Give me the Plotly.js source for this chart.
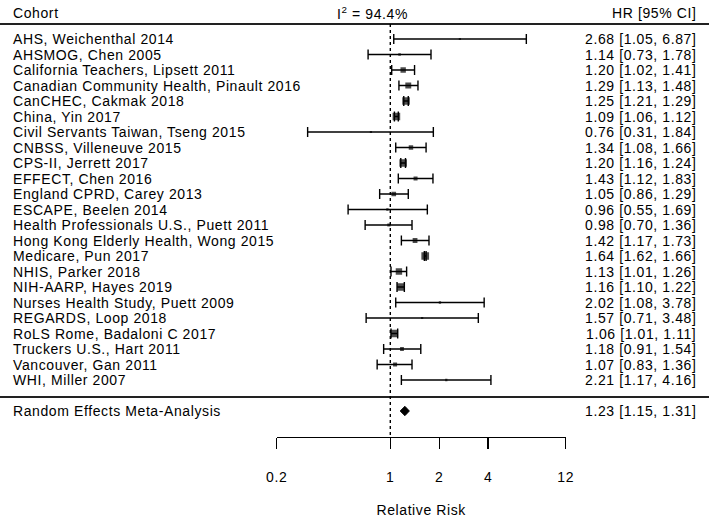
<!DOCTYPE html>
<html>
<head>
<meta charset="utf-8">
<script src="https://cdn.plot.ly/plotly-3.0.1.min.js"></script>
<style>
html,body{margin:0;padding:0;background:#fff;}
#chart{width:709px;height:518px;}
svg text{letter-spacing:0.6px;}
</style>
</head>
<body>
<div id="chart"></div>
<script>
// ---- data ----
const cohorts = [
  "AHS, Weichenthal 2014",
  "AHSMOG, Chen 2005",
  "California Teachers, Lipsett 2011",
  "Canadian Community Health, Pinault 2016",
  "CanCHEC, Cakmak 2018",
  "China, Yin 2017",
  "Civil Servants Taiwan, Tseng 2015",
  "CNBSS, Villeneuve 2015",
  "CPS-II, Jerrett 2017",
  "EFFECT, Chen 2016",
  "England CPRD, Carey 2013",
  "ESCAPE, Beelen 2014",
  "Health Professionals U.S., Puett 2011",
  "Hong Kong Elderly Health, Wong 2015",
  "Medicare, Pun 2017",
  "NHIS, Parker 2018",
  "NIH-AARP, Hayes 2019",
  "Nurses Health Study, Puett 2009",
  "REGARDS, Loop 2018",
  "RoLS Rome, Badaloni C 2017",
  "Truckers U.S., Hart 2011",
  "Vancouver, Gan 2011",
  "WHI, Miller 2007"
];
const hr    = [2.68,1.14,1.20,1.29,1.25,1.09,0.76,1.34,1.20,1.43,1.05,0.96,0.98,1.42,1.64,1.13,1.16,2.02,1.57,1.06,1.18,1.07,2.21];
const lower = [1.05,0.73,1.02,1.13,1.21,1.06,0.31,1.08,1.16,1.12,0.86,0.55,0.70,1.17,1.62,1.01,1.10,1.08,0.71,1.01,0.91,0.83,1.17];
const upper = [6.87,1.78,1.41,1.48,1.29,1.12,1.84,1.66,1.24,1.83,1.29,1.69,1.36,1.73,1.66,1.26,1.22,3.78,3.48,1.11,1.54,1.36,4.16];
const summaryLabel = "Random Effects Meta-Analysis";
const summary = {hr: 1.23, lower: 1.15, upper: 1.31};
const i2Text = "94.4%";
const tickVals = [0.2, 1, 2, 4, 12];
const tickText = ["0.2", "1", "2", "4", "12"];

// ---- layout helpers ----
const W = 709, H = 518;
const k = cohorts.length;
const rowY = cohorts.map((_, i) => k - i);     // metafor-style rows
const sumY = -1;
const pxPerRow = 15.5, firstRowPx = 39;
const yTop = k + firstRowPx / pxPerRow;
const yBot = k - (H - firstRowPx) / pxPerRow;
const pxToY = px => k - (px - firstRowPx) / pxPerRow;
const axisPx = 437;
const axisPaper = 1 - axisPx / H;
const fmt = (v) => v.toFixed(2);
const fontFam = "Liberation Sans, Arial, sans-serif";
const fs = 14;
const black = "#000";

// marker sizes from random-effects weights
const tau2 = 0.02;
const wts = lower.map((lo, i) => {
  const se = (Math.log(upper[i]) - Math.log(lo)) / (2 * 1.96);
  return 1 / (se * se + tau2);
});
const wmin = Math.min(...wts), wmax = Math.max(...wts);
const msize = wts.map(w => { const n = (w - wmin) / (wmax - wmin); return 2.2 + 5.5 * Math.pow(n, 1.7); });

// CI line segments
const ciX = [], ciY = [];
hr.forEach((_, i) => { ciX.push(lower[i], upper[i], null); ciY.push(rowY[i], rowY[i], null); });

const traces = [
  {x: ciX, y: ciY, mode: "lines+markers", type: "scatter", hoverinfo: "skip",
   line: {color: black, width: 1.4},
   marker: {symbol: "line-ns", size: 7, color: black, line: {width: 1.4, color: black}}},
  {x: hr, y: rowY, mode: "markers", type: "scatter", hoverinfo: "skip",
   marker: {symbol: "square", size: msize, color: black, line: {width: 0}}},
  {x: [summary.lower, summary.hr, summary.upper, summary.hr, summary.lower],
   y: [sumY, sumY + 0.3, sumY, sumY - 0.3, sumY],
   mode: "lines", type: "scatter", fill: "toself", fillcolor: black, hoverinfo: "skip",
   line: {color: black, width: 1}}
];

const tf = {family: fontFam, size: fs, color: black};
const annotations = [];
cohorts.forEach((c, i) => {
  annotations.push({xref: "paper", yref: "y", x: 11 / W, y: rowY[i], text: c, showarrow: false,
    xanchor: "left", yanchor: "middle", font: tf});
  annotations.push({xref: "paper", yref: "y", x: 698 / W, y: rowY[i],
    text: fmt(hr[i]) + " [" + fmt(lower[i]) + ", " + fmt(upper[i]) + "]", showarrow: false,
    xanchor: "right", yanchor: "middle", font: tf});
});
annotations.push({xref: "paper", yref: "y", x: 11 / W, y: sumY, text: summaryLabel, showarrow: false,
  xanchor: "left", yanchor: "middle", font: tf});
annotations.push({xref: "paper", yref: "y", x: 698 / W, y: sumY,
  text: fmt(summary.hr) + " [" + fmt(summary.lower) + ", " + fmt(summary.upper) + "]", showarrow: false,
  xanchor: "right", yanchor: "middle", font: tf});
const headY = pxToY(13);
annotations.push({xref: "paper", yref: "y", x: 11 / W, y: headY, text: "Cohort", showarrow: false,
  xanchor: "left", yanchor: "middle", font: tf});
annotations.push({xref: "paper", yref: "y", x: 698 / W, y: headY, text: "HR [95% CI]", showarrow: false,
  xanchor: "right", yanchor: "middle", font: tf});
annotations.push({xref: "paper", yref: "y", x: 335 / W, y: headY, text: "I<sup>2</sup> = " + i2Text, showarrow: false,
  xanchor: "left", yanchor: "middle", font: tf});

const shapes = [
  {type: "line", xref: "paper", yref: "y", x0: 0, x1: 1, y0: pxToY(24), y1: pxToY(24), line: {color: "#222", width: 1.8}},
  {type: "line", xref: "paper", yref: "y", x0: 0, x1: 1, y0: pxToY(397), y1: pxToY(397), line: {color: "#222", width: 1.8}},
  {type: "line", xref: "x", yref: "y", x0: 1, x1: 1, y0: pxToY(24), y1: pxToY(axisPx), line: {color: black, width: 1.4, dash: "dot"}}
];

const x0px = 276.7, x1px = 565.7;
const layout = {
  width: W, height: H,
  margin: {l: 0, r: 0, t: 0, b: 0, pad: 0},
  paper_bgcolor: "#fff", plot_bgcolor: "rgba(0,0,0,0)",
  showlegend: false,
  font: tf,
  xaxis: {
    type: "log", domain: [x0px / W, x1px / W],
    range: [Math.log10(0.2), Math.log10(12)],
    anchor: "free", position: axisPaper,
    showline: true, linecolor: black, linewidth: 1.4,
    ticks: "outside", ticklen: 11, tickwidth: 1.4, tickcolor: black,
    tickvals: tickVals, ticktext: tickText, ticklabelstandoff: 16,
    showgrid: false, zeroline: false, automargin: false, fixedrange: true,
    tickfont: tf,
    title: {text: "Relative Risk", standoff: 25, font: tf}
  },
  yaxis: {
    domain: [0, 1], range: [yBot, yTop], visible: false, fixedrange: true
  },
  shapes: shapes,
  annotations: annotations
};

Plotly.newPlot("chart", traces, layout, {displayModeBar: false, staticPlot: true});
</script>
</body>
</html>
